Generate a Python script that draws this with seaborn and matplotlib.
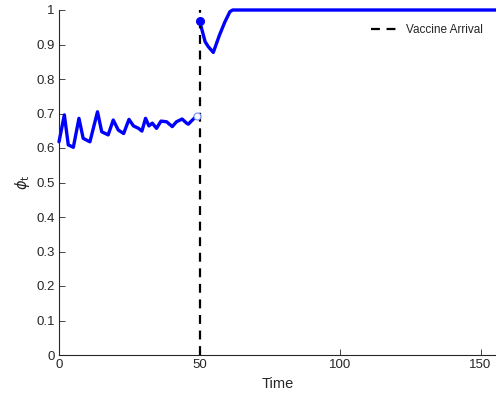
import matplotlib
matplotlib.use("Agg")
import matplotlib.pyplot as plt
import seaborn as sns
import pandas as pd

# Data
pre_time = [0, 1.9, 3.3, 5.1, 7.1, 8.6, 11, 13.7, 15.2, 17.5, 19.3, 21.1, 23, 24.9, 26.5,
            28.3, 29.5, 30.8, 32, 33.2, 34.7, 36.3, 38.3, 40.3, 41.8, 43.8, 45.4, 46, 47.2, 49]
pre_phi = [0.618, 0.696, 0.609, 0.602, 0.686, 0.628, 0.618, 0.705, 0.647, 0.638, 0.681, 0.652,
           0.642, 0.683, 0.664, 0.657, 0.649, 0.686, 0.664, 0.672, 0.657, 0.678, 0.676, 0.662,
           0.676, 0.684, 0.672, 0.669, 0.679, 0.693]
post_time = [50, 52, 53.1, 54.9, 57, 59, 60.8, 61.8, 100, 156]
post_phi = [0.969, 0.908, 0.894, 0.877, 0.925, 0.965, 0.995, 1.0, 1.0, 1.0]
vaccine_time = 50
x_ticks = [0, 50, 100, 150]
y_ticks = [0, 0.1, 0.2, 0.3, 0.4, 0.5, 0.6, 0.7, 0.8, 0.9, 1]

sns.set_theme(style="ticks")
plt.rcParams['font.family'] = ['Liberation Sans', 'DejaVu Sans']

fig = plt.figure(figsize=(4.96, 4.03), dpi=100)
ax = fig.add_axes([59/496, 48/403, 1 - 59/496, 345/403])

df_pre = pd.DataFrame({"Time": pre_time, "phi": pre_phi})
df_post = pd.DataFrame({"Time": post_time, "phi": post_phi})
blue = (0, 0, 1)
sns.lineplot(data=df_pre, x="Time", y="phi", ax=ax, color=blue, linewidth=2.4, clip_on=False,
             solid_joinstyle='round', solid_capstyle='round')
sns.lineplot(data=df_post, x="Time", y="phi", ax=ax, color=blue, linewidth=2.4, clip_on=False,
             solid_joinstyle='round', solid_capstyle='butt')
ax.plot([pre_time[-1]], [pre_phi[-1]], marker='o', markersize=5, markerfacecolor='white',
        markeredgecolor=(0.45, 0.55, 1.0), markeredgewidth=0.8, linestyle='none', zorder=5)
ax.plot([post_time[0]], [post_phi[0]], marker='o', markersize=5.5, color=blue,
        linestyle='none', zorder=5)
ax.axvline(vaccine_time, color='black', linestyle=(0, (4, 3)), linewidth=1.6,
           label="Vaccine Arrival")

ax.set_xlim(0, 155.5)
ax.set_ylim(0, 1)
ax.set_xticks(x_ticks)
ax.set_yticks(y_ticks)
ax.set_yticklabels([f"{v:g}" for v in y_ticks])
ax.set_xlabel("Time", fontsize=10.5, color=(0.15, 0.15, 0.15), labelpad=4)
ax.set_ylabel(r"$\phi_{\rm t}$", fontsize=10.5, color=(0.15, 0.15, 0.15), labelpad=3)
ax.tick_params(direction='in', length=4, width=0.6, labelsize=9.5,
               colors=(0.15, 0.15, 0.15), pad=3)
for s in ['top', 'right']:
    ax.spines[s].set_visible(False)
for s in ['left', 'bottom']:
    ax.spines[s].set_color((0.15, 0.15, 0.15))
    ax.spines[s].set_linewidth(0.8)

handles = [h for h in ax.get_lines() if h.get_label() == "Vaccine Arrival"]
ax.legend(handles=handles, loc='upper right', bbox_to_anchor=(0.995, 0.99), frameon=False,
          fontsize=8.5, handlelength=2.2)

fig.savefig("out.png", dpi=100)
